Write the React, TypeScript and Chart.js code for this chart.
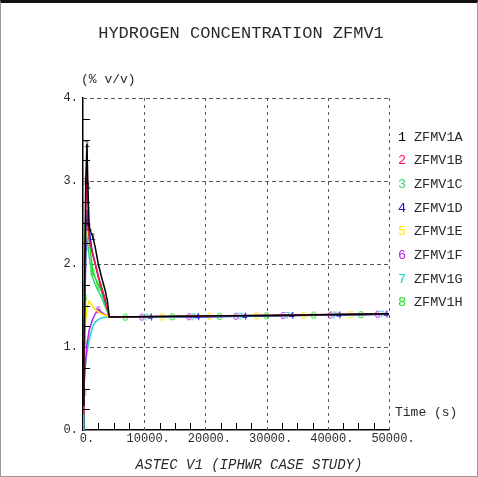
import React, { useEffect, useRef } from "react";
import { Chart, registerables } from "chart.js";

Chart.register(...registerables);

const SERIES_NAMES = ["ZFMV1A", "ZFMV1B", "ZFMV1C", "ZFMV1D", "ZFMV1E", "ZFMV1F", "ZFMV1G", "ZFMV1H"];
const SERIES_DIGITS = ["1", "2", "3", "4", "5", "6", "7", "8"];
const SERIES_COLORS = ["#000000", "#ff1050", "#3ccf7a", "#1010e0", "#ffe800", "#b020f0", "#20d8d0", "#18e018"];

const X_TICKS = [0, 10000, 20000, 30000, 40000, 50000];
const Y_TICKS = [0, 1, 2, 3, 4];

// Series 1 (black)
const TIMES_1 = [0, 150, 300, 450, 650, 800, 1000, 1300, 1600, 2000, 2500, 3000, 3600, 4000, 4300, 5000, 15000, 30000, 50000];
const VALUES_1 = [0.3, 0.9, 2.0, 3.0, 3.45, 2.95, 2.45, 2.38, 2.33, 2.2, 2.0, 1.85, 1.69, 1.55, 1.36, 1.36, 1.37, 1.38, 1.4];
const MARKS_1 = [3, 4, 5, 6, 8];

// Series 2 (red)
const TIMES_2 = [0, 150, 300, 450, 600, 800, 1000, 1500, 2000, 2500, 3000, 3500, 4000, 4300, 5000, 20000, 50000];
const VALUES_2 = [0.2, 0.6, 1.6, 2.6, 3.15, 2.7, 2.3, 2.15, 2.0, 1.85, 1.72, 1.6, 1.45, 1.36, 1.36, 1.375, 1.4];
const MARKS_2: number[] = [];

// Series 3 (light green)
const TIMES_3 = [0, 100, 200, 300, 500, 700, 1000, 1500, 2000, 3000, 4000, 4300, 5000, 20000, 50000];
const VALUES_3 = [0.0, 0.8, 1.6, 2.2, 2.4, 2.3, 2.1, 1.85, 1.75, 1.6, 1.42, 1.36, 1.36, 1.37, 1.4];
const MARKS_3: number[] = [];

// Series 4 (blue)
const TIMES_4 = [0, 150, 300, 500, 700, 1000, 1500, 2000, 2500, 3000, 3500, 4000, 4300, 5000, 11000, 18700, 26400, 34100, 41800, 49500, 50000];
const VALUES_4 = [0.0, 0.6, 1.5, 2.3, 2.65, 2.4, 2.15, 2.0, 1.85, 1.72, 1.6, 1.45, 1.36, 1.36, 1.36, 1.365, 1.37, 1.38, 1.385, 1.395, 1.4];
const MARKS_4 = [14, 15, 16, 17, 18, 19];

// Series 5 (yellow)
const TIMES_5 = [0, 100, 200, 400, 700, 1000, 1500, 2000, 3000, 4000, 5000, 13000, 20700, 28400, 36100, 43800, 50000];
const VALUES_5 = [0.0, 0.6, 1.0, 1.3, 1.5, 1.55, 1.5, 1.45, 1.4, 1.37, 1.36, 1.36, 1.37, 1.375, 1.38, 1.39, 1.4];
const MARKS_5 = [11, 12, 13, 14, 15];

// Series 6 (magenta)
const TIMES_6 = [0, 300, 600, 1000, 1500, 2000, 2500, 3000, 4000, 5000, 9600, 17300, 25000, 32700, 40400, 48100, 50000];
const VALUES_6 = [0.3, 0.7, 1.0, 1.2, 1.32, 1.4, 1.45, 1.42, 1.37, 1.36, 1.36, 1.365, 1.37, 1.38, 1.385, 1.395, 1.4];
const MARKS_6 = [6, 10, 11, 12, 13, 14, 15];

// Series 7 (cyan)
const TIMES_7 = [0, 200, 500, 800, 1200, 1600, 2000, 2500, 3000, 4000, 5000, 10300, 18000, 25700, 33400, 41100, 48800, 50000];
const VALUES_7 = [0.4, 0.6, 0.85, 1.0, 1.15, 1.25, 1.3, 1.33, 1.35, 1.36, 1.36, 1.36, 1.365, 1.37, 1.38, 1.385, 1.395, 1.4];
const MARKS_7 = [11, 12, 13, 14, 15, 16];

// Series 8 (green)
const TIMES_8 = [0, 150, 200, 250, 300, 350, 650, 1000, 1600, 2500, 2800, 3500, 4300, 5000, 6900, 14600, 22300, 30000, 37700, 45400, 50000];
const VALUES_8 = [0.0, 0.45, 1.05, 1.6, 2.2, 2.47, 2.55, 2.3, 1.9, 1.75, 1.72, 1.55, 1.36, 1.36, 1.36, 1.365, 1.37, 1.375, 1.385, 1.39, 1.4];
const MARKS_8 = [1, 2, 3, 4, 5, 8, 9, 10, 14, 15, 16, 17, 18, 19];

const ALL_TIMES = [TIMES_1, TIMES_2, TIMES_3, TIMES_4, TIMES_5, TIMES_6, TIMES_7, TIMES_8];
const ALL_VALUES = [VALUES_1, VALUES_2, VALUES_3, VALUES_4, VALUES_5, VALUES_6, VALUES_7, VALUES_8];
const ALL_MARKS = [MARKS_1, MARKS_2, MARKS_3, MARKS_4, MARKS_5, MARKS_6, MARKS_7, MARKS_8];

const MONO = "'Liberation Mono', 'DejaVu Sans Mono', monospace";
const TEXT_COLOR = "#2a2a2a";

function makeDigitCanvas(digit: string, color: string) {
  const c = document.createElement("canvas");
  c.width = 9;
  c.height = 11;
  const g = c.getContext("2d")!;
  g.font = `10px ${MONO}`;
  g.fillStyle = color;
  g.textAlign = "center";
  g.textBaseline = "middle";
  g.fillText(digit, 4.5, 6);
  return c;
}

const gridPlugin = {
  id: "dashedGrid",
  beforeDatasetsDraw(chart: any) {
    const ctx = chart.ctx;
    const xs = chart.scales.x;
    const ys = chart.scales.y;
    const area = chart.chartArea;
    ctx.save();
    ctx.strokeStyle = "#555";
    ctx.lineWidth = 1;
    ctx.setLineDash([4, 3]);
    for (const v of Y_TICKS) {
      if (v === 0) continue;
      const py = Math.round(ys.getPixelForValue(v)) + 0.5;
      ctx.beginPath();
      ctx.moveTo(area.left, py);
      ctx.lineTo(area.right, py);
      ctx.stroke();
    }
    ctx.setLineDash([3, 4]);
    for (const v of X_TICKS) {
      if (v === 0) continue;
      const px = Math.round(xs.getPixelForValue(v)) + 0.5;
      ctx.beginPath();
      ctx.moveTo(px, area.top);
      ctx.lineTo(px, area.bottom);
      ctx.stroke();
    }
    ctx.restore();
  },
};

const textPlugin = {
  id: "textPlugin",
  afterDraw(chart: any) {
    const ctx = chart.ctx;
    const xs = chart.scales.x;
    const ys = chart.scales.y;
    const area = chart.chartArea;
    ctx.save();
    ctx.strokeStyle = "#000";
    ctx.lineWidth = 1;
    for (let v = 2500; v < 50000; v += 2500) {
      if (v % 10000 === 0) continue;
      const px = Math.round(xs.getPixelForValue(v)) + 0.5;
      ctx.beginPath();
      ctx.moveTo(px, area.bottom);
      ctx.lineTo(px, area.bottom - 7);
      ctx.stroke();
    }
    for (let v = 0.25; v < 4; v += 0.25) {
      if (Math.abs(v - Math.round(v)) < 1e-6) continue;
      const py = Math.round(ys.getPixelForValue(v)) + 0.5;
      ctx.beginPath();
      ctx.moveTo(area.left, py);
      ctx.lineTo(area.left + 7, py);
      ctx.stroke();
    }
    ctx.fillStyle = TEXT_COLOR;
    ctx.textBaseline = "middle";
    ctx.font = `17px ${MONO}`;
    ctx.textAlign = "center";
    ctx.fillText("HYDROGEN CONCENTRATION ZFMV1", 241, 33);
    ctx.font = `13px ${MONO}`;
    ctx.textAlign = "left";
    ctx.fillText("(% v/v)", 81, 80);
    ctx.fillText("Time (s)", 395, 413);
    ctx.font = `italic 14px ${MONO}`;
    ctx.textAlign = "center";
    ctx.fillText("ASTEC V1 (IPHWR CASE STUDY)", 249, 465);
    ctx.font = `13.5px ${MONO}`;
    ctx.textAlign = "left";
    for (let i = 0; i < SERIES_NAMES.length; i++) {
      const y = 137 + i * 23.7;
      ctx.fillStyle = SERIES_COLORS[i];
      ctx.fillText(SERIES_DIGITS[i], 398, y);
      ctx.fillStyle = TEXT_COLOR;
      ctx.fillText(SERIES_NAMES[i], 414, y);
    }
    ctx.restore();
  },
};

export default function App() {
  const ref = useRef<HTMLCanvasElement | null>(null);
  useEffect(() => {
    if (!ref.current) return;
    const datasets = ALL_TIMES.map((times, i) => {
      const img = makeDigitCanvas(SERIES_DIGITS[i], SERIES_COLORS[i]);
      const marks = ALL_MARKS[i];
      return {
        label: SERIES_NAMES[i],
        data: times.map((t, j) => ({ x: t, y: ALL_VALUES[i][j] })),
        borderColor: SERIES_COLORS[i],
        backgroundColor: SERIES_COLORS[i],
        borderWidth: 1.5,
        pointStyle: img as any,
        pointRadius: (c: any) => (marks.includes(c.dataIndex) ? 1 : 0),
        pointHoverRadius: 0,
        tension: 0,
      };
    });
    const chart = new Chart(ref.current, {
      type: "line",
      data: { datasets },
      options: {
        animation: false,
        responsive: true,
        maintainAspectRatio: false,
        layout: { padding: { left: 0, top: 98, right: 89, bottom: 0 } },
        plugins: { legend: { display: false }, tooltip: { enabled: false }, title: { display: false } },
        scales: {
          x: {
            type: "linear",
            min: 0,
            max: 50000,
            afterFit: (s: any) => {
              s.height = 47;
            },
            afterBuildTicks: (s: any) => {
              s.ticks = X_TICKS.map((v) => ({ value: v }));
            },
            ticks: {
              color: TEXT_COLOR,
              font: { family: MONO, size: 12 },
              padding: 2,
              labelOffset: 4,
              maxRotation: 0,
              callback: (v: any) => `${v}.`,
            },
            grid: { display: false, drawTicks: false, tickLength: 0 },
            border: { display: true, color: "#000", width: 1.5 },
          },
          y: {
            type: "linear",
            min: 0,
            max: 4,
            afterFit: (s: any) => {
              s.width = 83;
            },
            afterBuildTicks: (s: any) => {
              s.ticks = Y_TICKS.map((v) => ({ value: v }));
            },
            ticks: {
              color: TEXT_COLOR,
              font: { family: MONO, size: 12 },
              padding: 5,
              callback: (v: any) => `${v}.`,
            },
            grid: { display: false, drawTicks: false, tickLength: 0 },
            border: { display: true, color: "#000", width: 1.5 },
          },
        },
      },
      plugins: [gridPlugin, textPlugin],
    });
    return () => chart.destroy();
  }, []);
  return (
    <div
      style={{
        position: "fixed",
        left: 0,
        top: 0,
        width: 478,
        height: 477,
        background: "#fff",
      }}
    >
      <canvas ref={ref} />
      <div
        style={{
          position: "absolute",
          left: 0,
          top: 0,
          width: 478,
          height: 477,
          boxSizing: "border-box",
          pointerEvents: "none",
          borderTop: "3px solid #111",
          borderLeft: "1px solid #999",
          borderRight: "1px solid #999",
          borderBottom: "1px solid #999",
        }}
      />
    </div>
  );
}
